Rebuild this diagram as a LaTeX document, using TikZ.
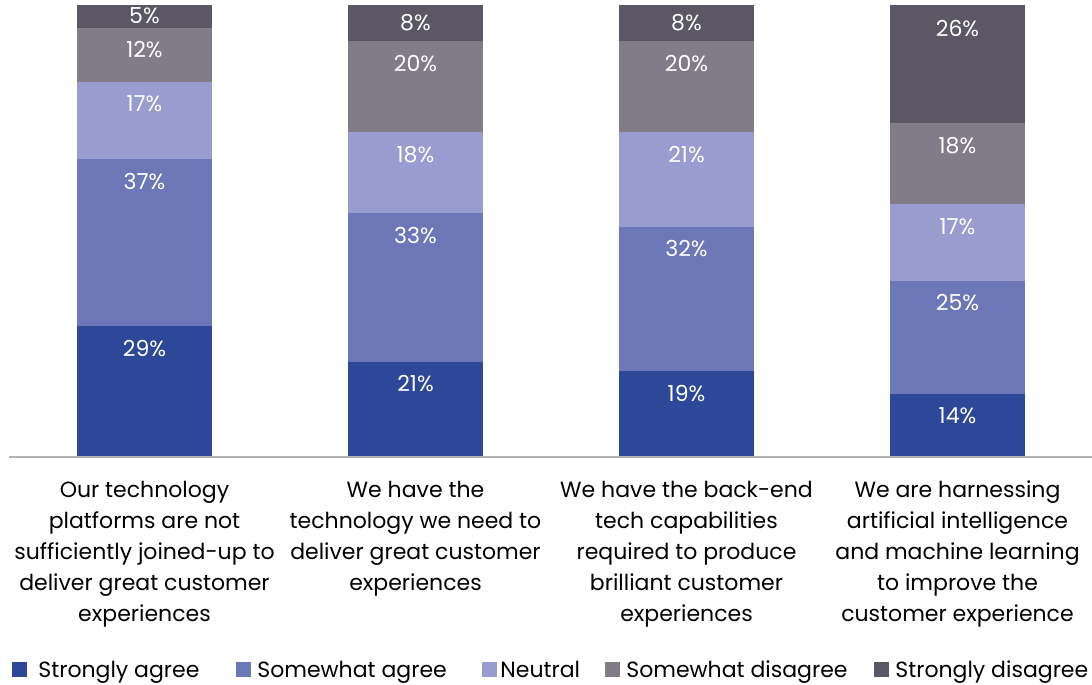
\documentclass[tikz,border=0pt]{standalone}
\usepackage{fontspec}
\setmainfont{Poppins}
\usepackage{xcolor}
\usepackage{tikz}

\definecolor{sagree}{HTML}{2D4898}
\definecolor{wagree}{HTML}{6B77B7}
\definecolor{neutral}{HTML}{989CCF}
\definecolor{wdisagree}{HTML}{827C88}
\definecolor{sdisagree}{HTML}{5B5764}

\begin{document}
\begin{tikzpicture}[x=0.5pt, y=-0.5pt,
    pct/.style={text=white, font=\fontsize{11}{13}\selectfont},
    cat/.style={align=center, font=\fontsize{11}{15.5}\selectfont},
    legbox/.style={minimum size=7.5pt, inner sep=0pt},
    legtext/.style={anchor=base west, inner sep=0pt, font=\fontsize{11}{13}\selectfont}]
    \useasboundingbox (0,0) rectangle (1092,685);

    % Bar 1
    \fill[sagree] (77,457) rectangle (212,325.9);
    \fill[wagree] (77,325.9) rectangle (212,158.7);
    \fill[neutral] (77,158.7) rectangle (212,81.8);
    \fill[wdisagree] (77,81.8) rectangle (212,27.6);
    \fill[sdisagree] (77,27.6) rectangle (212,5);
    \node[pct] (b1a) at (144.5,349) {29\%};
    \node[pct] (b1b) at (144.5,182) {37\%};
    \node[pct] (b1c) at (144.5,104) {17\%};
    \node[pct] (b1d) at (144.5,50) {12\%};
    \node[pct] (b1e) at (144.5,16) {5\%};

    % Bar 2
    \fill[sagree] (348,457) rectangle (483,362.1);
    \fill[wagree] (348,362.1) rectangle (483,212.9);
    \fill[neutral] (348,212.9) rectangle (483,131.6);
    \fill[wdisagree] (348,131.6) rectangle (483,41.2);
    \fill[sdisagree] (348,41.2) rectangle (483,5);
    \node[pct] (b2a) at (415.5,384) {21\%};
    \node[pct] (b2b) at (415.5,236) {33\%};
    \node[pct] (b2c) at (415.5,155) {18\%};
    \node[pct] (b2d) at (415.5,64) {20\%};
    \node[pct] (b2e) at (415.5,23) {8\%};

    % Bar 3
    \fill[sagree] (619,457) rectangle (754,371.1);
    \fill[wagree] (619,371.1) rectangle (754,226.5);
    \fill[neutral] (619,226.5) rectangle (754,131.6);
    \fill[wdisagree] (619,131.6) rectangle (754,41.2);
    \fill[sdisagree] (619,41.2) rectangle (754,5);
    \node[pct] (b3a) at (686.5,394) {19\%};
    \node[pct] (b3b) at (686.5,249) {32\%};
    \node[pct] (b3c) at (686.5,155) {21\%};
    \node[pct] (b3d) at (686.5,64) {20\%};
    \node[pct] (b3e) at (686.5,23) {8\%};

    % Bar 4
    \fill[sagree] (890,457) rectangle (1025,393.7);
    \fill[wagree] (890,393.7) rectangle (1025,280.7);
    \fill[neutral] (890,280.7) rectangle (1025,203.9);
    \fill[wdisagree] (890,203.9) rectangle (1025,122.5);
    \fill[sdisagree] (890,122.5) rectangle (1025,5);
    \node[pct] (b4a) at (957.5,416) {14\%};
    \node[pct] (b4b) at (957.5,303) {25\%};
    \node[pct] (b4c) at (957.5,227) {17\%};
    \node[pct] (b4d) at (957.5,146) {18\%};
    \node[pct] (b4e) at (957.5,29) {26\%};

    % Axis
    \draw[gray!60, line width=1pt] (9,457) -- (1092,457);

    % Category labels
    \node[cat] (c1) at (144.5,554) {Our technology\\platforms are not\\sufficiently joined-up to\\deliver great customer\\experiences};
    \node[cat] (c2) at (415.5,538.5) {We have the\\technology we need to\\deliver great customer\\experiences};
    \node[cat] (c3) at (686.5,554) {We have the back-end\\tech capabilities\\required to produce\\brilliant customer\\experiences};
    \node[cat] (c4) at (957.5,554) {We are harnessing\\artificial intelligence\\and machine learning\\to improve the\\customer experience};

    % Legend
    \node[legbox, fill=sagree] (k1) at (19.5,669) {};
    \node[legtext] (t1) at (38,677) {Strongly agree};
    \node[legbox, fill=wagree] (k2) at (243.5,669) {};
    \node[legtext] (t2) at (257,677) {Somewhat agree};
    \node[legbox, fill=neutral] (k3) at (489.5,669) {};
    \node[legtext] (t3) at (500,677) {Neutral};
    \node[legbox, fill=wdisagree] (k4) at (612.5,669) {};
    \node[legtext] (t4) at (626,677) {Somewhat disagree};
    \node[legbox, fill=sdisagree] (k5) at (881.5,669) {};
    \node[legtext] (t5) at (895,677) {Strongly disagree};
\end{tikzpicture}
\end{document}
